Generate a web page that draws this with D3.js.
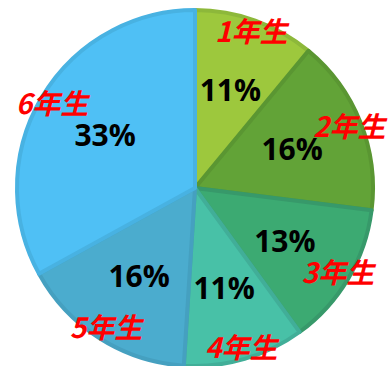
<!DOCTYPE html>
<meta charset="utf-8">
<style>
body { margin:0; background:#fff; }
.pct { font-family:"Open Sans", "Liberation Sans", sans-serif; font-weight:bold; font-size:30px; }
.cat { font-family:"Noto Sans CJK JP", sans-serif; font-style:italic; font-weight:bold; font-size:28px; fill:#ff0000; }
</style>
<body>
<div id="chart"></div>
<script src="https://cdnjs.cloudflare.com/ajax/libs/d3/7.8.5/d3.min.js"></script>
<script>
// データ
var grades = ["1年生", "2年生", "3年生", "4年生", "5年生", "6年生"];
var values = [11, 16, 13, 11, 16, 33];
var fills = ["#9dc83d", "#62a337", "#3caa72", "#48c1a7", "#4bacce", "#4fc0f5"];
var borders = ["#8db83a", "#5a9632", "#37996a", "#41ae98", "#45a0c0", "#48b2e2"];

var width = 389, height = 366;
var cx = 195, cy = 188, radius = 180;

var svg = d3.select("#chart").append("svg").attr("width", width).attr("height", height);
var g = svg.append("g").attr("transform", "translate(" + cx + "," + cy + ")");

var dataset = grades.map(function(d, i) { return {name: d, value: values[i], i: i}; });

var pie = d3.pie().value(function(d) { return d.value; }).sort(null);
var arc = d3.arc().innerRadius(0).outerRadius(radius - 2);
var pctArc = d3.arc().innerRadius(radius * 0.58).outerRadius(radius * 0.58);
var catArc = d3.arc().innerRadius(166).outerRadius(166);

var slices = g.selectAll(".pie").data(pie(dataset)).enter().append("g").attr("class", "pie");

slices.append("path")
  .attr("d", arc)
  .attr("fill", function(d) { return fills[d.index]; })
  .attr("stroke", function(d) { return borders[d.index]; })
  .attr("stroke-width", 4)
  .attr("stroke-linejoin", "round");

// パーセント表示
slices.append("text")
  .attr("class", "pct")
  .attr("transform", function(d) { return "translate(" + pctArc.centroid(d) + ")"; })
  .attr("text-anchor", "middle")
  .attr("dy", "0.36em")
  .text(function(d) { return d.data.value + "%"; });

// 学年ラベル
slices.append("text")
  .attr("class", "cat")
  .attr("transform", function(d) { return "translate(" + catArc.centroid(d) + ")"; })
  .attr("text-anchor", "middle")
  .attr("dy", "0.36em")
  .text(function(d) { return d.data.name; });
</script>
</body>
